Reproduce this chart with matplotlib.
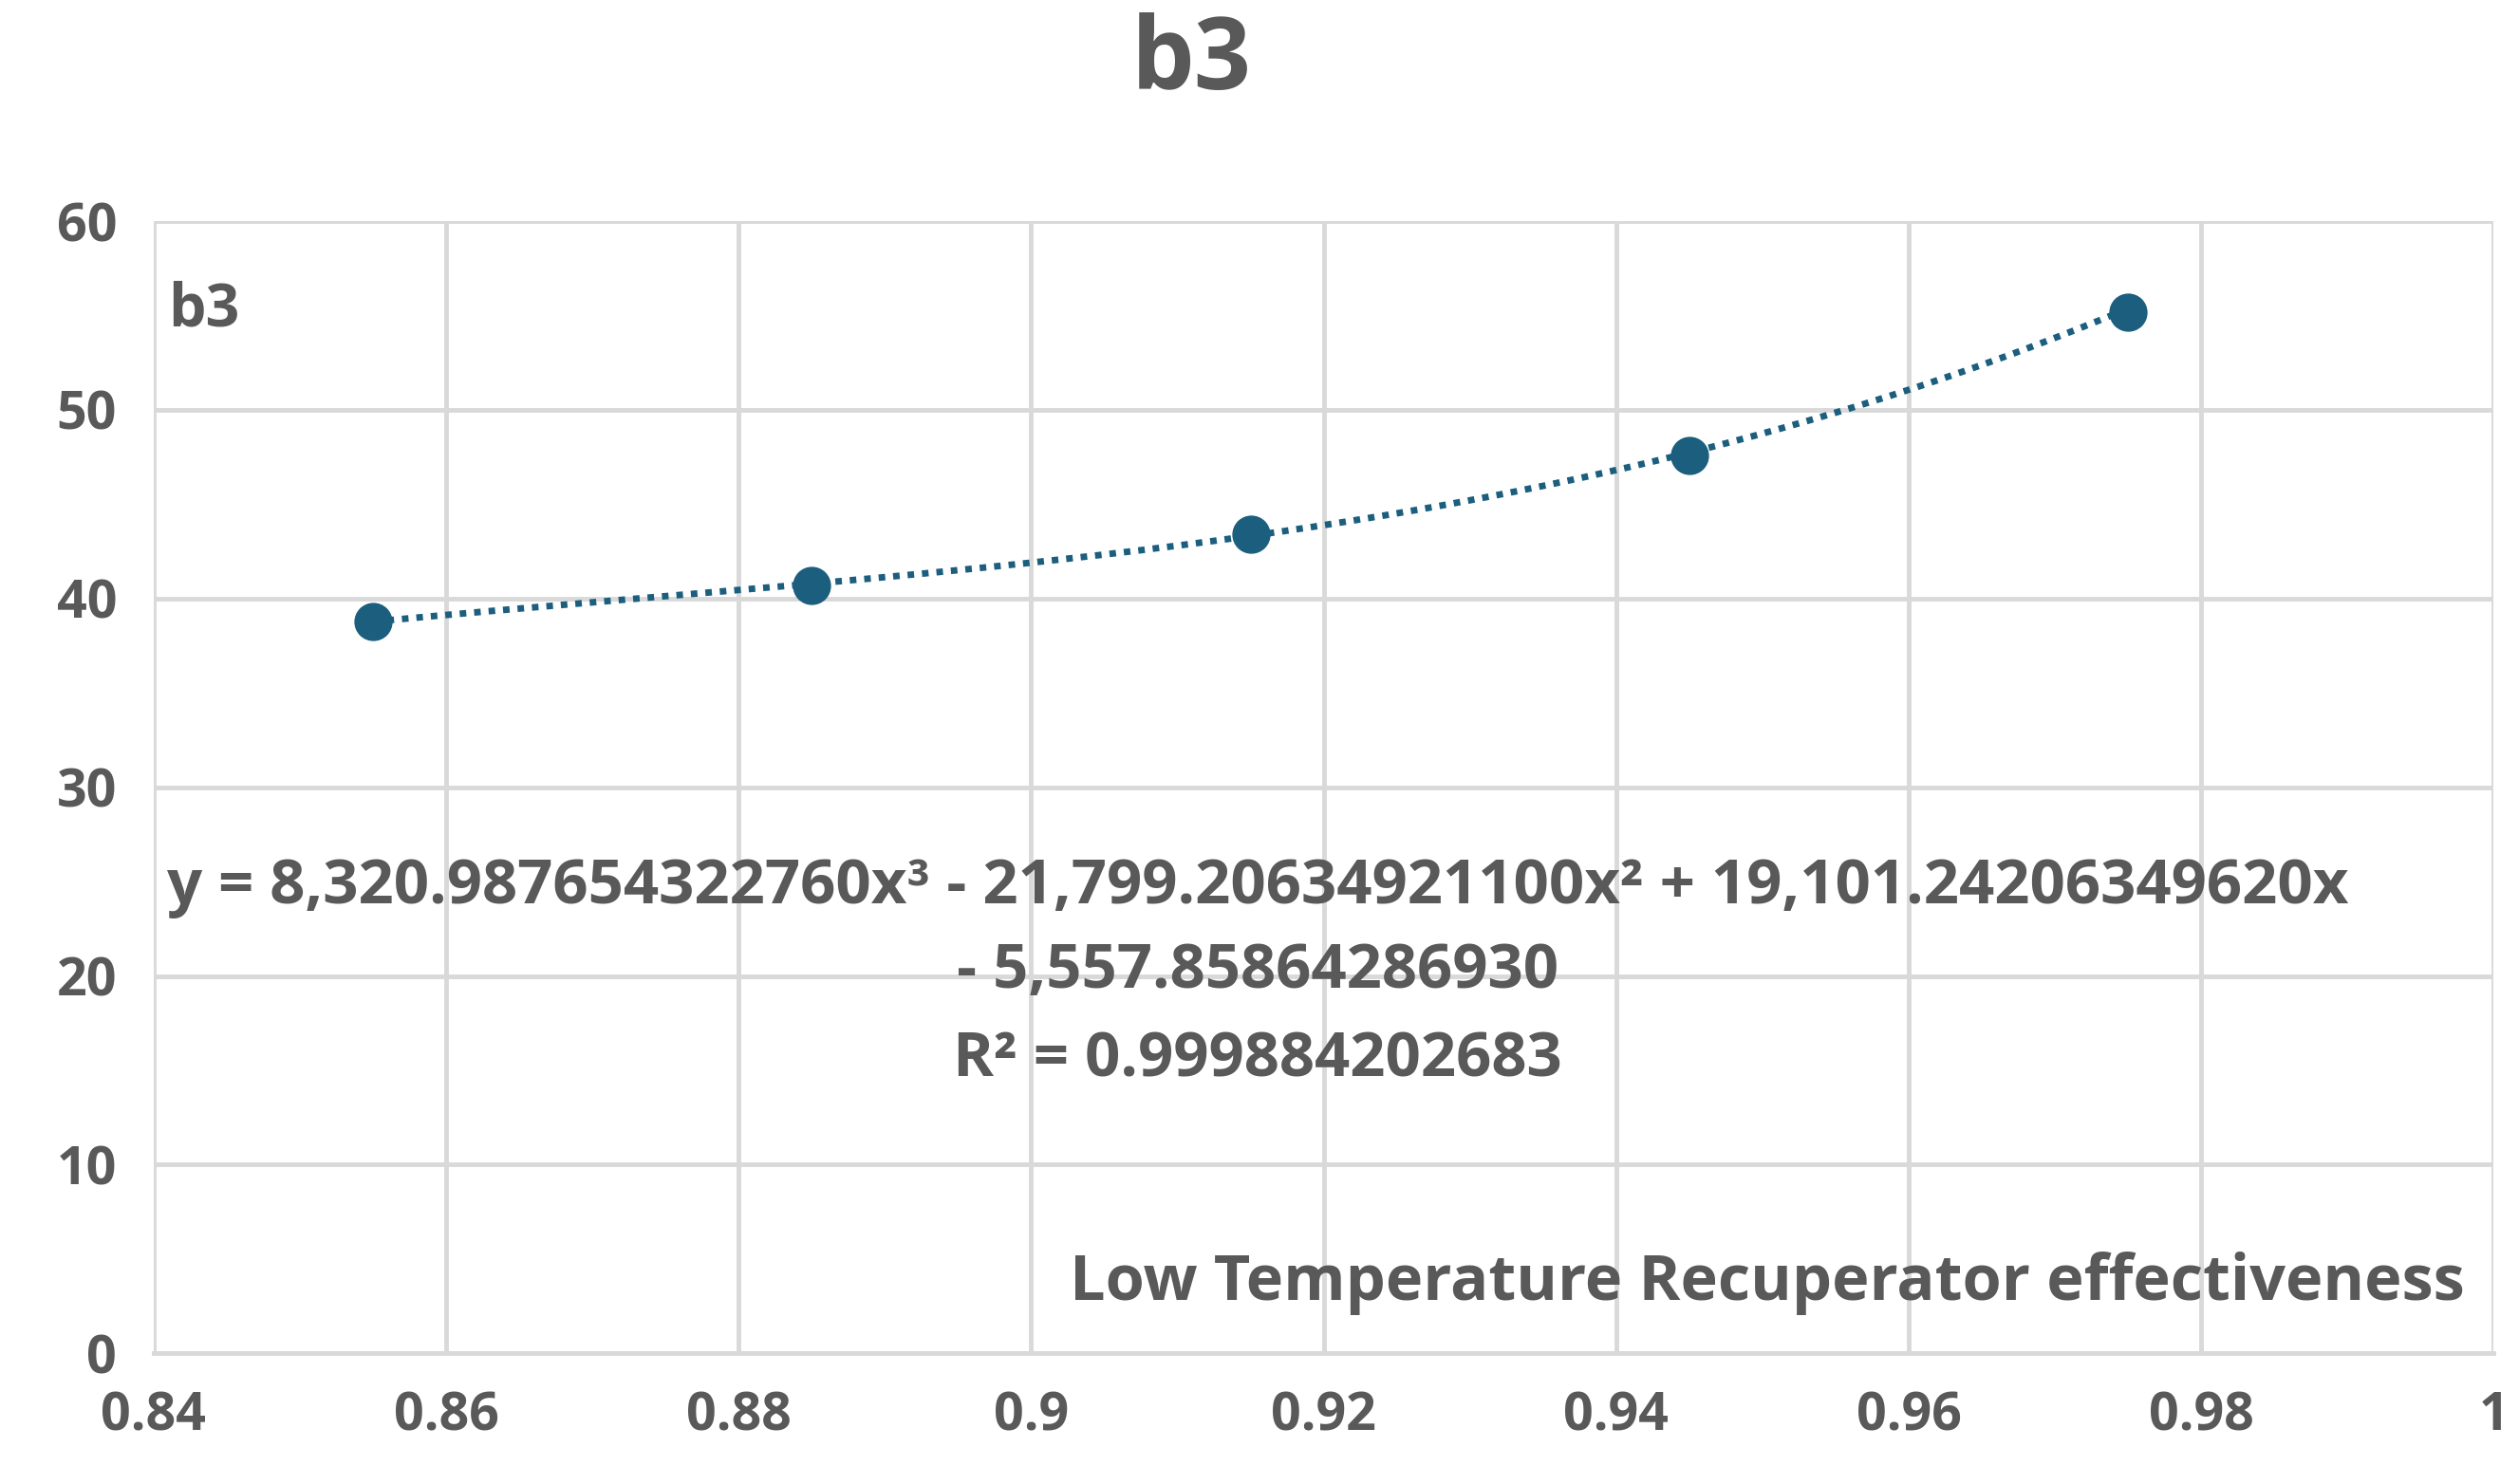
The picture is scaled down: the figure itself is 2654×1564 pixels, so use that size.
import numpy as np
import matplotlib
matplotlib.use("Agg")
import matplotlib.pyplot as plt

plt.rcParams['font.family'] = ['Open Sans', 'DejaVu Sans']
plt.rcParams['font.weight'] = 'bold'

# data
effectiveness = [0.855, 0.885, 0.915, 0.945, 0.975]
b3_values = [38.8, 40.7, 43.4, 47.6, 55.2]
# trendline coefficients as printed on the chart
coeffs = [8320.98765432276, -21799.20634921100, 19101.24206349620, -5557.85864286930]
x_ticks = [0.84, 0.86, 0.88, 0.9, 0.92, 0.94, 0.96, 0.98, 1]
x_tick_labels = ["0.84", "0.86", "0.88", "0.9", "0.92", "0.94", "0.96", "0.98", "1"]
y_ticks = [0, 10, 20, 30, 40, 50, 60]

grey = "#595959"
blue = "#1b5e7e"

fig = plt.figure(figsize=(26.54, 15.64), dpi=100)
ax = fig.add_axes([0.061, 0.088, 0.929, 0.763])

xs = np.linspace(effectiveness[0], effectiveness[-1], 200)
ax.plot(xs, np.polyval(coeffs, xs), linestyle=(0, (1, 1.2)), color=blue, linewidth=5, zorder=3)
ax.plot(effectiveness, b3_values, "o", color=blue, markersize=28, zorder=4)

ax.set_xlim(0.84, 1)
ax.set_ylim(0, 60)
ax.set_xticks(x_ticks)
ax.set_xticklabels(x_tick_labels)
ax.set_yticks(y_ticks)
ax.grid(True, color="#d9d9d9", linewidth=3.5)
ax.set_axisbelow(True)
for s in ["top", "right", "left"]:
    ax.spines[s].set_visible(False)
ax.spines["bottom"].set_color("#d9d9d9")
ax.spines["bottom"].set_linewidth(3.5)
ax.tick_params(length=0, labelsize=40, labelcolor=grey, pad=28)
for lbl in ax.get_xticklabels() + ax.get_yticklabels():
    lbl.set_fontweight("bold")

fig.text(0.473, 0.958, "b3", ha="center", va="center", fontsize=76, color=grey, fontweight="bold")
ax.text(0.841, 55.3, "b3", ha="left", va="center", fontsize=45, color=grey, fontweight="bold")
ax.text(0.9155, 24.7, "y = 8,320.987654322760x³ - 21,799.20634921100x² + 19,101.24206349620x",
        ha="center", va="center", fontsize=47, color=grey, fontweight="bold")
ax.text(0.9155, 20.2, "- 5,557.85864286930", ha="center", va="center", fontsize=47, color=grey, fontweight="bold")
ax.text(0.9155, 15.5, "R² = 0.999884202683", ha="center", va="center", fontsize=47, color=grey, fontweight="bold")
ax.text(0.998, 3.7, "Low Temperature Recuperator effectiveness", ha="right", va="center",
        fontsize=48, color=grey, fontweight="bold")

fig.savefig("out.png", dpi=100)
